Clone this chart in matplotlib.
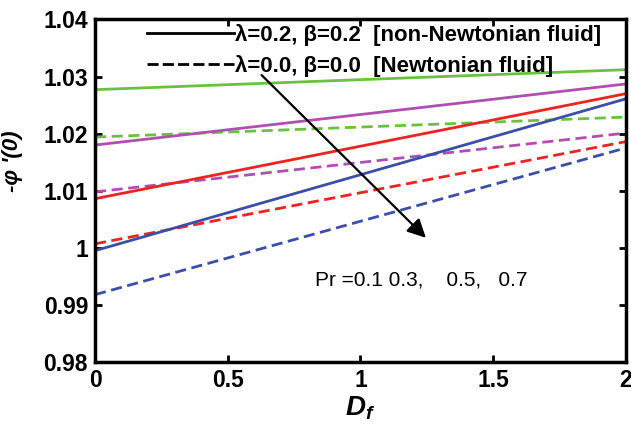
import matplotlib.pyplot as plt

plt.rcParams['font.family'] = ['Liberation Sans', 'DejaVu Sans']
plt.rcParams['mathtext.fontset'] = 'custom'
plt.rcParams['mathtext.it'] = 'Liberation Sans:bold:italic'
plt.rcParams['mathtext.rm'] = 'Liberation Sans:bold'

# D_f endpoints
df = [0, 2]

# solid: lambda=0.2, beta=0.2 (non-Newtonian)
sol_01 = [1.0277, 1.0312]
sol_03 = [1.0180, 1.0287]
sol_05 = [1.0086, 1.0270]
sol_07 = [0.9995, 1.0261]

# dashed: lambda=0.0, beta=0.0 (Newtonian)
das_01 = [1.0194, 1.0229]
das_03 = [1.0098, 1.0201]
das_05 = [1.0007, 1.0186]
das_07 = [0.9918, 1.0175]

colors = ['#6cc040', '#b04fb0', '#ee2222', '#3b4fa6']
solid = [sol_01, sol_03, sol_05, sol_07]
dashed = [das_01, das_03, das_05, das_07]

fig = plt.figure(figsize=(6.31, 4.32), dpi=100)
ax = fig.add_axes([0.1506, 0.162, 0.8414, 0.793])

for c, s, d in zip(colors, solid, dashed):
    ax.plot(df, s, color=c, lw=2.0)
    ax.plot(df, d, color=c, lw=2.0, ls=(0, (4, 2)))

# legend proxies
ax.plot([], [], 'k-', lw=2.0, label='\u03bb=0.2, \u03b2=0.2  [non-Newtonian fluid]')
ax.plot([], [], 'k--', lw=2.0, dashes=(4, 1.5), label='\u03bb=0.0, \u03b2=0.0  [Newtonian fluid]')
ax.legend(loc='upper left', bbox_to_anchor=(0.06, 1.045), frameon=False,
          handlelength=3.9, handletextpad=0.05, labelspacing=0.4,
          prop={'weight': 'bold', 'size': 16})

ax.annotate('', xy=(1.254, 1.0014), xytext=(0.62, 1.0306),
            arrowprops=dict(arrowstyle='-|>', lw=1.6, color='k', mutation_scale=28))
ax.text(0.829, 0.9944, 'Pr =0.1 0.3,    0.5,   0.7', fontsize=15, va='center')

ax.set_xlim(0, 2)
ax.set_ylim(0.98, 1.04)
ax.set_xticks([0, 0.5, 1, 1.5, 2])
ax.set_xticklabels(['0', '0.5', '1', '1.5', '2'])
ax.set_yticks([0.98, 0.99, 1.0, 1.01, 1.02, 1.03, 1.04])
ax.set_yticklabels(['0.98', '0.99', '1', '1.01', '1.02', '1.03', '1.04'])
ax.tick_params(direction='in', top=True, right=True, width=2, length=5,
               labelsize=16.5, pad=5)
for lab in ax.get_xticklabels() + ax.get_yticklabels():
    lab.set_fontweight('bold')
for sp in ax.spines.values():
    sp.set_linewidth(2.5)

ax.set_xlabel(r'$D_f$', fontsize=20, labelpad=2)
ax.set_ylabel("-\u03c6 '(0)", fontsize=16, fontweight='bold', style='italic')
ax.yaxis.set_label_coords(-0.135, 0.585)

fig.savefig('out.png', dpi=100)
